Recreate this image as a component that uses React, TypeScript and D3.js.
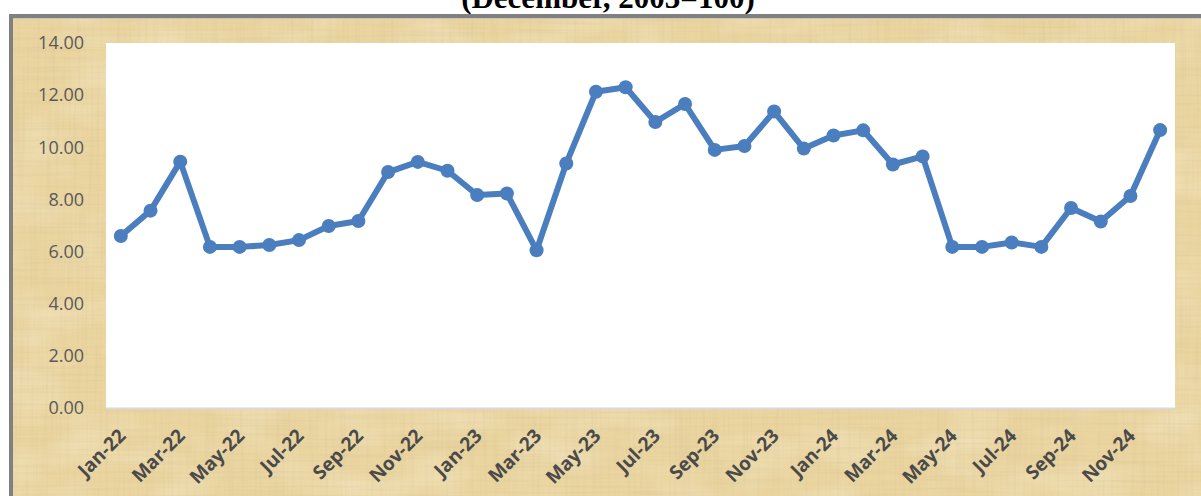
import React from "react";
import * as d3 from "d3";

const months = [
  "Jan-22","Feb-22","Mar-22","Apr-22","May-22","Jun-22","Jul-22","Aug-22","Sep-22","Oct-22","Nov-22","Dec-22",
  "Jan-23","Feb-23","Mar-23","Apr-23","May-23","Jun-23","Jul-23","Aug-23","Sep-23","Oct-23","Nov-23","Dec-23",
  "Jan-24","Feb-24","Mar-24","Apr-24","May-24","Jun-24","Jul-24","Aug-24","Sep-24","Oct-24","Nov-24","Dec-24",
];
const values = [
  6.6, 7.57, 9.45, 6.18, 6.18, 6.25, 6.44, 6.98, 7.17, 9.05, 9.44, 9.1,
  8.17, 8.23, 6.05, 9.38, 12.13, 12.3, 10.97, 11.66, 9.9, 10.05, 11.37, 9.95,
  10.45, 10.65, 9.34, 9.65, 6.18, 6.18, 6.35, 6.18, 7.67, 7.15, 8.13, 10.66,
];
const yTicks = [0, 2, 4, 6, 8, 10, 12, 14];
const title = "(December, 2003=100)";

const W = 1201, H = 496;
const plot = { left: 106, right: 1175, top: 43, bottom: 408 };

export default function App() {
  const x = d3.scaleBand<string>().domain(months).range([plot.left, plot.right]).padding(0);
  const y = d3.scaleLinear().domain([0, 14]).range([plot.bottom, plot.top]);
  const cx = (m: string) => (x(m) as number) + x.bandwidth() / 2;
  const line = d3.line<number>().x((_, i) => cx(months[i])).y((d) => y(d));
  const labelMonths = months.filter((_, i) => i % 2 === 0);

  return (
    <div style={{ position: "fixed", left: 0, top: 0, width: W, height: H, background: "#fff" }}>
      <svg width={W} height={H} style={{ display: "block" }}>
        <defs>
          <filter id="fibH" x="0" y="0" width="100%" height="100%">
            <feTurbulence type="fractalNoise" baseFrequency="0.01 0.35" numOctaves={2} seed={3} result="n" />
            <feColorMatrix in="n" type="matrix"
              values="0 0 0 0 0.62  0 0 0 0 0.5  0 0 0 0 0.28  0 0 0 1.5 -0.7" />
          </filter>
          <filter id="fibV" x="0" y="0" width="100%" height="100%">
            <feTurbulence type="fractalNoise" baseFrequency="0.35 0.01" numOctaves={2} seed={7} result="n" />
            <feColorMatrix in="n" type="matrix"
              values="0 0 0 0 0.62  0 0 0 0 0.5  0 0 0 0 0.28  0 0 0 1.5 -0.7" />
          </filter>
          <filter id="blot" x="0" y="0" width="100%" height="100%">
            <feTurbulence type="fractalNoise" baseFrequency="0.015 0.03" numOctaves={2} seed={11} result="n" />
            <feColorMatrix in="n" type="matrix"
              values="0 0 0 0 1  0 0 0 0 0.96  0 0 0 0 0.86  0 0 0 1.2 -0.5" />
          </filter>
        </defs>

        {/* title (cut off at top, as in the source) */}
        <text x={608} y={8} textAnchor="middle" fontFamily="'Liberation Serif', 'Times New Roman', serif"
          fontWeight="bold" fontSize={31} fill="#000">{title}</text>

        {/* frame */}
        <rect x={9} y={14} width={W} height={H} fill="#808080" />
        <rect x={13} y={18} width={W} height={H} fill="#c9c6c0" />
        <rect x={13} y={19} width={W} height={H} fill="#ead5a0" />
        <rect x={13} y={19} width={W} height={H} filter="url(#blot)" opacity={0.5} />
        <rect x={13} y={19} width={W} height={H} filter="url(#fibH)" opacity={0.35} />
        <rect x={13} y={19} width={W} height={H} filter="url(#fibV)" opacity={0.3} />

        {/* plot area */}
        <rect x={plot.left} y={plot.top} width={plot.right - plot.left} height={plot.bottom - plot.top} fill="#fff" />
        <line x1={plot.left} x2={plot.right} y1={plot.bottom + 0.5} y2={plot.bottom + 0.5} stroke="#d9d9d9" strokeWidth={2} />

        {/* y axis labels */}
        {yTicks.map((t) => (
          <text key={t} x={84} y={y(t)} dy="0.35em" textAnchor="end" fontFamily="'Open Sans', sans-serif"
            fontSize={18} fill="#595959">{t.toFixed(2)}</text>
        ))}

        {/* x axis labels */}
        {labelMonths.map((m) => (
          <text key={m} transform={`translate(${cx(m) + 6},${plot.bottom + 29}) rotate(-45)`} textAnchor="end"
            fontFamily="'Open Sans', sans-serif" fontWeight="bold" fontSize={19} fill="#4a4a4a">{m}</text>
        ))}

        {/* series */}
        <path d={line(values) as string} fill="none" stroke="#4a7ebf" strokeWidth={6} strokeLinejoin="round" />
        {values.map((v, i) => (
          <circle key={i} cx={cx(months[i])} cy={y(v)} r={7} fill="#4a7ebf" />
        ))}
      </svg>
    </div>
  );
}
